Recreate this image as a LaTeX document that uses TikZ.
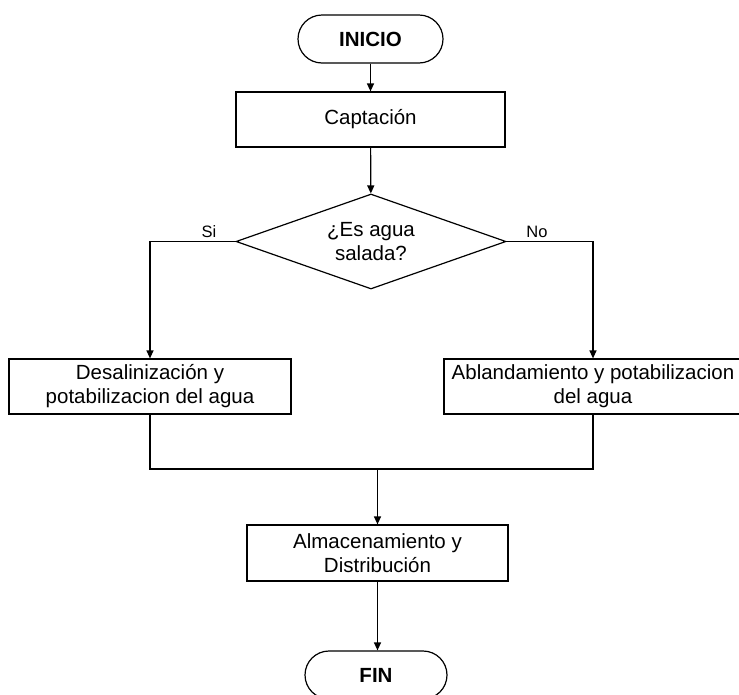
\documentclass[tikz,border=0pt]{standalone}
\usepackage{fontspec}
\setmainfont{Liberation Sans}
\usetikzlibrary{arrows.meta,shapes.geometric}
\begin{document}
\begin{tikzpicture}[x=1pt,y=-1pt,
  line width=1.2pt,
  every node/.style={line width=1.2pt},
  txt/.style={font=\fontsize{20.5}{24}\selectfont, align=center},
  procbox/.style={draw, txt, inner sep=0pt, minimum height=55pt},
  term/.style={draw, rounded corners=24pt, minimum height=48pt, inner sep=0pt,
    font=\fontsize{20.5}{24}\selectfont\bfseries},
  decis/.style={draw, diamond, aspect=2.84, inner sep=0pt, minimum width=270pt,
    minimum height=95pt, txt},
  lbl/.style={font=\fontsize{16.5}{18}\selectfont, inner sep=0pt},
  arr/.style={-{Triangle[length=8pt,width=7pt]}}]
\useasboundingbox (0,0) rectangle (739,694);
\clip (0,0) rectangle (739,694);
\node[term, minimum width=145pt] (ini) at (370.5,39) {INICIO};
\node[procbox, minimum width=269pt] (cap) at (370.5,119.5) {Captación};
\node[decis] (dec) at (371,241.5) {¿Es agua\\salada?};
\node[procbox, minimum width=282pt] (des) at (150,386.5) {Desalinización y\\potabilizacion del agua};
\node[procbox, minimum width=298pt] (abl) at (593,386.5) {Ablandamiento y potabilizacion\\del agua};
\node[procbox, minimum width=261pt, minimum height=56pt] (alm) at (377.5,553) {Almacenamiento y\\Distribución};
\node[term, minimum width=142pt] (fin) at (376,675) {FIN};
\node[lbl] (si) at (209,231.5) {Si};
\node[lbl] (no) at (537,231.5) {No};
\coordinate (j) at (377.5,469);
\draw[arr] (ini) -- (ini |- cap.north);
\draw[arr] (cap) -- (dec);
\draw[arr] (dec.west) -| (des.north);
\draw[arr] (dec.east) -| (abl.north);
\draw (des.south) |- (j) -| (abl.south);
\draw[arr] (j) -- (alm.north);
\draw[arr] (alm) -- (alm.south |- fin.north);
\end{tikzpicture}
\end{document}
